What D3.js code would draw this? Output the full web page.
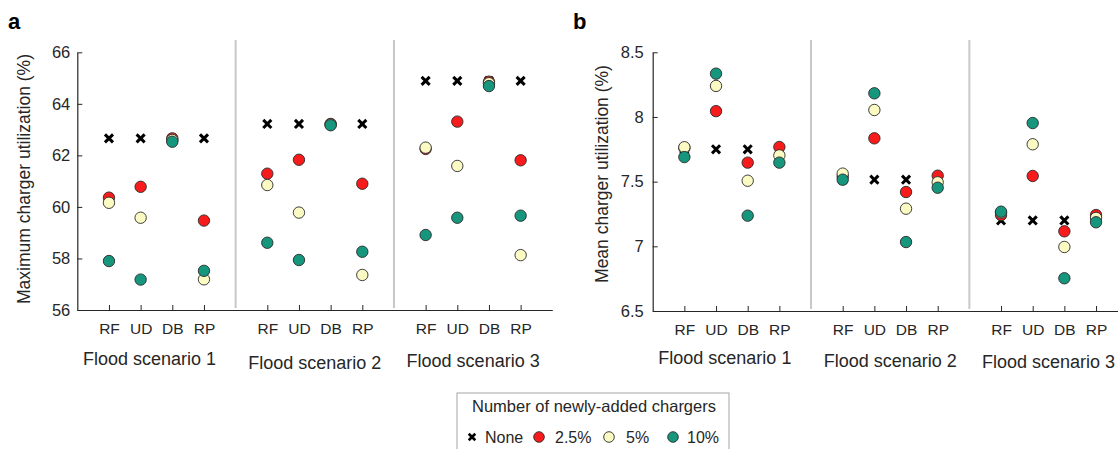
<html>
<script src='https://d3js.org/d3.v7.min.js'></script>
<style>
  body {margin:0; background:#fff;}
  svg text {font-family: "Liberation Sans", Arial, sans-serif; fill:#262626;}
  .axis path, .axis line {stroke:#262626;}
  .axis text {font-size:16.5px; fill:#262626;}
</style>
<body>
<svg id="chart" width=1118 height=449></svg>
<script>
// categories and groups
var categories = ["RF", "UD", "DB", "RP"];
var scenarios = ["Flood scenario 1", "Flood scenario 2", "Flood scenario 3"];
var seriesNames = ["None", "2.5%", "5%", "10%"];
var seriesColors = ["#000000", "#f81b1b", "#fafac2", "#17967e"];

// panel a: maximum charger utilization (%), 12 values = 3 scenarios x 4 categories
var maxNone = [62.66, 62.66, 62.66, 62.66, 63.22, 63.22, 63.22, 63.22, 64.89, 64.89, 64.89, 64.89];
var max25   = [60.36, 60.78, 62.66, 59.47, 61.29, 61.83, 63.22, 60.90, 62.25, 63.31, 64.86, 61.81];
var max5    = [60.16, 59.58, 62.60, 57.19, 60.85, 59.78, 63.20, 57.36, 62.30, 61.59, 64.80, 58.13];
var max10   = [57.90, 57.18, 62.53, 57.52, 58.61, 57.94, 63.17, 58.26, 58.91, 59.58, 64.69, 59.66];
var maxTicks = [56, 58, 60, 62, 64, 66];

// panel b: mean charger utilization (%)
var meanNone = [7.75, 7.75, 7.75, 7.75, 7.515, 7.515, 7.515, 7.515, 7.20, 7.20, 7.20, 7.20];
var mean25   = [7.76, 8.045, 7.647, 7.768, 7.54, 7.835, 7.42, 7.546, 7.242, 7.544, 7.116, 7.242];
var mean5    = [7.766, 8.24, 7.507, 7.703, 7.562, 8.054, 7.291, 7.495, 7.26, 7.789, 6.995, 7.22];
var mean10   = [7.69, 8.335, 7.237, 7.647, 7.515, 8.183, 7.033, 7.453, 7.268, 7.953, 6.753, 7.186];
var meanTicks = [6.5, 7, 7.5, 8, 8.5];

var svg = d3.select("#chart");

// position of each point on a 0..15 grid (gap between scenarios)
function pos(i) { return Math.floor(i / 4) * 5 + (i % 4) + 1; }
var tickPos = d3.range(12).map(pos);

function drawPanel(opt) {
  var x = d3.scaleLinear().domain([0, 15]).range([opt.left, opt.left + 475]);
  var y = d3.scaleLinear().domain(opt.domain).range([opt.bottom, 52.3]);
  var g = svg.append("g");

  // scenario separators
  g.selectAll(".sep").data([5, 10]).enter().append("line")
    .attr("x1", function(d) { return x(d); }).attr("x2", function(d) { return x(d); })
    .attr("y1", 40).attr("y2", opt.bottom - 2)
    .style("stroke", "#c8c8c8").style("stroke-width", 2);

  var xAxis = d3.axisBottom(x).tickValues(tickPos)
    .tickFormat(function(d, i) { return categories[i % 4]; })
    .tickSizeInner(-5).tickSizeOuter(0).tickPadding(13);
  g.append("g").attr("class", "axis")
    .attr("transform", "translate(0," + opt.bottom + ")")
    .call(xAxis)
    .selectAll("text").style("font-size", "15.5px");

  var yAxis = d3.axisLeft(y).tickValues(opt.ticks).tickFormat(d3.format("~g"))
    .tickSizeInner(-5).tickSizeOuter(0).tickPadding(opt.pad);
  g.append("g").attr("class", "axis")
    .attr("transform", "translate(" + opt.left + ",0)")
    .call(yAxis);
  g.selectAll(".axis .domain").style("stroke-width", 1.2);

  g.selectAll(".scen").data(scenarios).enter().append("text")
    .attr("x", function(d, i) { return x(i * 5 + 2.5) + opt.scenDx[i]; })
    .attr("y", function(d, i) { return opt.scenY[i]; })
    .style("text-anchor", "middle").style("font-size", "18px")
    .text(function(d) { return d; });

  g.append("text")
    .attr("transform", "translate(" + opt.labelX + "," + opt.labelY + ") rotate(-90)")
    .attr("dy", "0.35em")
    .style("text-anchor", "middle").style("font-size", "17.5px")
    .text(opt.label);

  g.append("text").attr("x", opt.letterX).attr("y", 29)
    .style("font-size", "22px").style("font-weight", "bold").style("fill", "#000")
    .text(opt.letter);

  // None markers
  g.selectAll(".none").data(opt.series[0]).enter().append("path")
    .attr("d", d3.symbol(d3.symbolX, 44))
    .attr("transform", function(d, i) { return "translate(" + x(pos(i)) + "," + y(d) + ")"; })
    .style("stroke", "#000").style("stroke-width", 3).style("fill", "none");

  // circle series drawn in legend order
  [1, 2, 3].forEach(function(s) {
    g.selectAll(".s" + s).data(opt.series[s]).enter().append("circle")
      .attr("cx", function(d, i) { return x(pos(i)); })
      .attr("cy", function(d) { return y(d); })
      .attr("r", 5.7)
      .style("fill", seriesColors[s]).style("stroke", "#2a2a2a").style("stroke-width", 0.9);
  });
}

drawPanel({left: 77.3, bottom: 310, domain: [56, 66], ticks: maxTicks, pad: 7,
  label: "Maximum charger utilization (%)", labelX: 24, labelY: 179, letter: "a", letterX: 8,
  scenDx: [-7, 0, 0], scenY: [365, 369, 367],
  series: [maxNone, max25, max5, max10]});
drawPanel({left: 652.7, bottom: 311, domain: [6.5, 8.5], ticks: meanTicks, pad: 9,
  label: "Mean charger utilization (%)", labelX: 602, labelY: 174, letter: "b", letterX: 573,
  scenDx: [-7, 0, 0], scenY: [364, 367, 368],
  series: [meanNone, mean25, mean5, mean10]});

// legend
var legend = svg.append("g");
legend.append("rect").attr("x", 457).attr("y", 393).attr("width", 272).attr("height", 70)
  .style("fill", "#fff").style("stroke", "#b4b4b4").style("stroke-width", 1.2);
legend.append("text").attr("x", 594).attr("y", 412)
  .style("text-anchor", "middle").style("font-size", "16.5px")
  .text("Number of newly-added chargers");
var itemX = [472, 539, 609, 673];
var textDx = [13, 16, 17, 14];
var item = legend.selectAll(".item").data(seriesNames).enter().append("g")
  .attr("transform", function(d, i) { return "translate(" + itemX[i] + ",437)"; });
item.each(function(d, i) {
  var it = d3.select(this);
  if (i === 0) {
    it.append("path").attr("d", d3.symbol(d3.symbolX, 30))
      .style("stroke", "#000").style("stroke-width", 2.6).style("fill", "none");
  } else {
    it.append("circle").attr("r", 5.3)
      .style("fill", seriesColors[i]).style("stroke", "#2a2a2a").style("stroke-width", 0.9);
  }
  it.append("text").attr("x", textDx[i]).attr("dy", "0.35em").style("font-size", "16px").text(d);
});
</script>
</body>
</html>
